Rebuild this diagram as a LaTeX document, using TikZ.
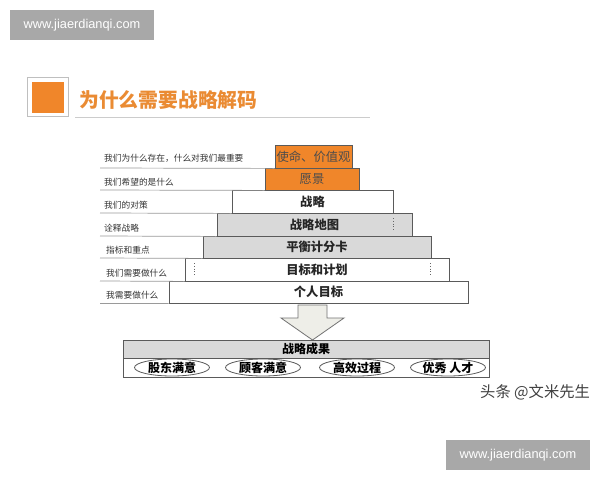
\documentclass[tikz,border=0pt]{standalone}
\usepackage{fontspec}
\setmainfont{Liberation Sans}
\newfontfamily\cjk{Noto Sans CJK SC}
\usetikzlibrary{shapes.geometric}
\definecolor{wmgray}{HTML}{A8A8A8}
\definecolor{orangebox}{HTML}{F0862A}
\definecolor{titleorange}{HTML}{EA8B33}
\definecolor{boxgray}{HTML}{D9D9D9}
\definecolor{edgegray}{HTML}{5A5A5A}
\definecolor{linegray}{HTML}{9A9A9A}
\definecolor{arrowfill}{HTML}{EEEEE8}
\tikzset{
  wm/.style={fill=wmgray, text=white, inner sep=0pt, font=\fontsize{12.8}{14}\selectfont},
  lvl/.style={draw=edgegray, line width=0.8pt, inner sep=0pt, font=\cjk\bfseries\fontsize{12.3}{14}\selectfont, text=black!85},
  orangelvl/.style={lvl, fill=orangebox, font=\cjk\fontsize{12.3}{14}\selectfont, text=black!70},
  lab/.style={anchor=west, inner sep=0pt, font=\cjk\fontsize{8.7}{10}\selectfont, text=black!80},
  sep/.style={draw=linegray, line width=0.7pt},
  dots/.style={draw=black!60, dotted, line width=0.8pt},
  goal/.style={ellipse, draw=edgegray, line width=0.8pt, minimum width=75pt, minimum height=17pt, inner sep=0pt, font=\cjk\bfseries\fontsize{12}{14}\selectfont},
}
\begin{document}
\begin{tikzpicture}[x=1pt,y=-1pt]
\useasboundingbox (0,0) rectangle (600,480);
\fill[white] (0,0) rectangle (600,480);
% watermarks
\node[wm, minimum width=144pt, minimum height=30pt] (wm1) at (82,25) {www.jiaerdianqi.com};
\node[wm, minimum width=144pt, minimum height=30pt] (wm2) at (518,455) {www.jiaerdianqi.com};
% title
\draw[draw=black!25, line width=0.6pt] (27,77) rectangle (68,116);
\node[fill=orangebox, minimum width=32pt, minimum height=31pt, inner sep=0pt] (tsq) at (48,97) {};
\node[anchor=west, inner sep=0pt, text=titleorange, font=\cjk\bfseries\fontsize{19.8}{22}\selectfont] (title) at (79,100) {为什么需要战略解码};
\coordinate (ul1) at (75,117);
\coordinate (ul2) at (370,117);
\draw[draw=black!20, line width=0.7pt] (ul1) -- (ul2);
% pyramid levels
\node[orangelvl, minimum width=77pt, minimum height=23pt] (mission) at (313.5,156.5) {使命、价值观};
\node[orangelvl, minimum width=94pt, minimum height=22pt] (vision) at (312,179) {愿景};
\node[lvl, fill=white, minimum width=161pt, minimum height=23pt] (strategy) at (312.5,201.5) {战略};
\node[lvl, fill=boxgray, minimum width=195pt, minimum height=23pt] (map) at (314.5,224.5) {战略地图};
\node[lvl, fill=boxgray, minimum width=228pt, minimum height=22pt] (bsc) at (317,247) {平衡计分卡};
\node[lvl, fill=white, minimum width=264pt, minimum height=23pt] (plan) at (317,269.5) {目标和计划};
\node[lvl, fill=white, minimum width=299pt, minimum height=22pt] (personal) at (318.5,292) {个人目标};
% dotted marks
\draw[dots] (393,218) -- (393,231);
\draw[dots] (194,263) -- (194,276);
\draw[dots] (430,263) -- (430,276);
% left labels
\node[lab] (l1) at (104,158) {我们为什么存在，什么对我们最重要};
\node[lab] (l2) at (104,182) {我们希望的是什么};
\node[lab] (l3) at (104,205) {我们的对策};
\node[lab] (l4) at (104,228) {诠释战略};
\node[lab] (l5) at (106,250) {指标和重点};
\node[lab] (l6) at (106,273) {我们需要做什么};
\node[lab] (l7) at (106,295) {我需要做什么};
% separator lines
\coordinate (s1) at (100,168);
\coordinate (s2) at (100,190);
\coordinate (s3) at (100,213);
\coordinate (s4) at (100,236);
\coordinate (s5) at (100,258);
\coordinate (s6) at (100,281);
\coordinate (s7) at (100,303.5);
\draw[sep] (s1) -- (mission.south west);
\draw[sep] (s2) -- (vision.south west);
\draw[sep] (s3) -- (strategy.south west);
\draw[sep] (s4) -- (map.south west);
\draw[sep] (s5) -- (bsc.south west);
\draw[sep] (s6) -- (plan.south west);
\draw[sep] (s7) -- (personal.south west);
% block arrow
\draw[draw=black!55, fill=arrowfill, line width=0.8pt, line join=miter]
  (298,305) -- (327,305) -- (327,318) -- (344,318) -- (312.5,340) -- (281,318) -- (298,318) -- cycle;
\coordinate (arrowtip) at (312.5,340);
% results
\node[draw=edgegray, line width=0.8pt, fill=boxgray, minimum width=366pt, minimum height=18pt, inner sep=0pt, font=\cjk\bfseries\fontsize{12}{14}\selectfont] (result) at (306,349) {战略成果};
\node[draw=edgegray, line width=0.8pt, fill=white, minimum width=366pt, minimum height=19pt, inner sep=0pt, anchor=north] (goals) at (result.south) {};
\node[goal] (g1) at (172,367.5) {股东满意};
\node[goal] (g2) at (263,367.5) {顾客满意};
\node[goal] (g3) at (357,367.5) {高效过程};
\node[goal] (g4) at (448,367.5) {优秀 人才};
% credit
\node[anchor=west, inner sep=0pt, text=black!75, font=\cjk\fontsize{15.3}{17}\selectfont] (credit) at (480,392) {头条 @文米先生};
\end{tikzpicture}
\end{document}
